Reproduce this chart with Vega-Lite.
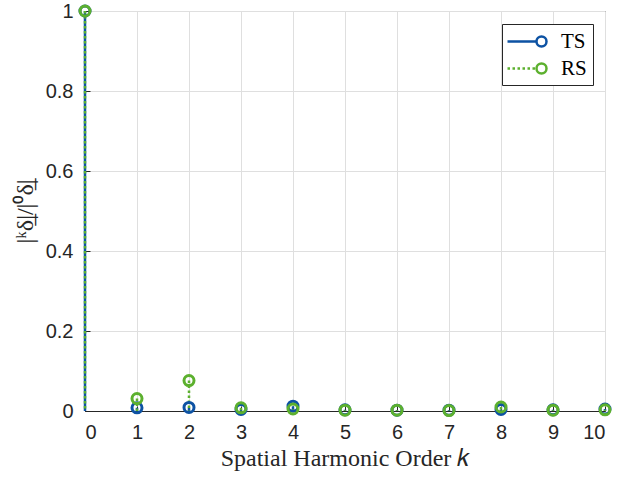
{
  "$schema": "https://vega.github.io/schema/vega-lite/v6.json",
  "width": 520,
  "height": 400,
  "autosize": {"type": "none"},
  "padding": {"left": 85, "top": 11, "right": 23, "bottom": 67},
  "background": "white",
  "config": {
    "view": {"stroke": "#262626", "strokeWidth": 1},
    "axis": {
      "labelFont": "Liberation Sans",
      "labelFontSize": 20,
      "labelColor": "#262626",
      "titleFont": "Liberation Serif",
      "titleFontSize": 24,
      "titleFontWeight": "normal",
      "titleColor": "#262626",
      "domainColor": "#262626",
      "tickColor": "#262626",
      "gridColor": "#dfdfdf",
      "gridOpacity": 1
    },
    "legend": {
      "orient": "none",
      "legendX": 417,
      "legendY": 13,
      "padding": 6,
      "labelFont": "Liberation Serif",
      "labelFontSize": 21,
      "symbolSize": 400,
      "symbolStrokeWidth": 2.5,
      "symbolFillColor": "transparent",
      "symbolOffset": 8,
      "rowPadding": 5,
      "labelOffset": 22
    }
  },
  "data": {
    "values": [
      {"k": 0, "series": "TS", "dash": "solid", "value": 1.0},
      {"k": 1, "series": "TS", "dash": "solid", "value": 0.008},
      {"k": 2, "series": "TS", "dash": "solid", "value": 0.009},
      {"k": 3, "series": "TS", "dash": "solid", "value": 0.004},
      {"k": 4, "series": "TS", "dash": "solid", "value": 0.012},
      {"k": 5, "series": "TS", "dash": "solid", "value": 0.003},
      {"k": 6, "series": "TS", "dash": "solid", "value": 0.002},
      {"k": 7, "series": "TS", "dash": "solid", "value": 0.002},
      {"k": 8, "series": "TS", "dash": "solid", "value": 0.004},
      {"k": 9, "series": "TS", "dash": "solid", "value": 0.003},
      {"k": 10, "series": "TS", "dash": "solid", "value": 0.005},
      {"k": 0, "series": "RS", "dash": "dotted", "value": 1.0},
      {"k": 1, "series": "RS", "dash": "dotted", "value": 0.031},
      {"k": 2, "series": "RS", "dash": "dotted", "value": 0.076},
      {"k": 3, "series": "RS", "dash": "dotted", "value": 0.008},
      {"k": 4, "series": "RS", "dash": "dotted", "value": 0.005},
      {"k": 5, "series": "RS", "dash": "dotted", "value": 0.002},
      {"k": 6, "series": "RS", "dash": "dotted", "value": 0.002},
      {"k": 7, "series": "RS", "dash": "dotted", "value": 0.001},
      {"k": 8, "series": "RS", "dash": "dotted", "value": 0.01},
      {"k": 9, "series": "RS", "dash": "dotted", "value": 0.002},
      {"k": 10, "series": "RS", "dash": "dotted", "value": 0.003}
    ]
  },
  "encoding": {
    "x": {
      "field": "k",
      "type": "quantitative",
      "scale": {"domain": [0, 10], "nice": false},
      "axis": {"values": [0,1,2,3,4,5,6,7,8,9,10], "title": "Spatial Harmonic Order 𝑘", "grid": true, "tickSize": -5, "labelPadding": 16, "titlePadding": 4}
    },
    "y": {
      "field": "value",
      "type": "quantitative",
      "scale": {"domain": [0, 1], "nice": false},
      "axis": {"values": [0,0.2,0.4,0.6,0.8,1], "format": "~g", "title": "|ᵏδ̲|/|⁰δ̲|", "grid": true, "tickSize": -5, "labelPadding": 17, "titlePadding": 8}
    },
    "color": {
      "field": "series",
      "type": "nominal",
      "scale": {"domain": ["TS", "RS"], "range": ["#0d52a3", "#5cb02e"]},
      "legend": {
        "title": null,
        "strokeColor": "#262626",
        "fillColor": "white",
        "labelColor": "black",
        "symbolType": "M1.9,0A0.5,0.5 0 1 1 0.9,0A0.5,0.5 0 1 1 1.9,0",
        "zindex": 0
      }
    }
  },
  "layer": [
    {
      "mark": {"type": "rule", "strokeWidth": 2.5},
      "encoding": {
        "y2": {"datum": 0},
        "strokeDash": {
          "field": "dash",
          "type": "nominal",
          "scale": {"domain": ["solid", "dotted"], "range": [[1, 0], [2.5, 2.5]]},
          "legend": {
            "title": null,
            "labelColor": "transparent",
            "labelExpr": "datum.value === 'solid' ? 'TS' : 'RS'",
            "symbolType": "M-2,0L0.9,0",
            "zindex": 1,
            "encode": {
              "symbols": {
                "update": {
                  "stroke": {"signal": "datum.value === 'solid' ? '#0d52a3' : '#5cb02e'"}
                }
              }
            }
          }
        }
      }
    },
    {
      "mark": {"type": "point", "shape": "circle", "filled": false, "size": 100, "strokeWidth": 3, "opacity": 1},
      "encoding": {}
    }
  ]
}
